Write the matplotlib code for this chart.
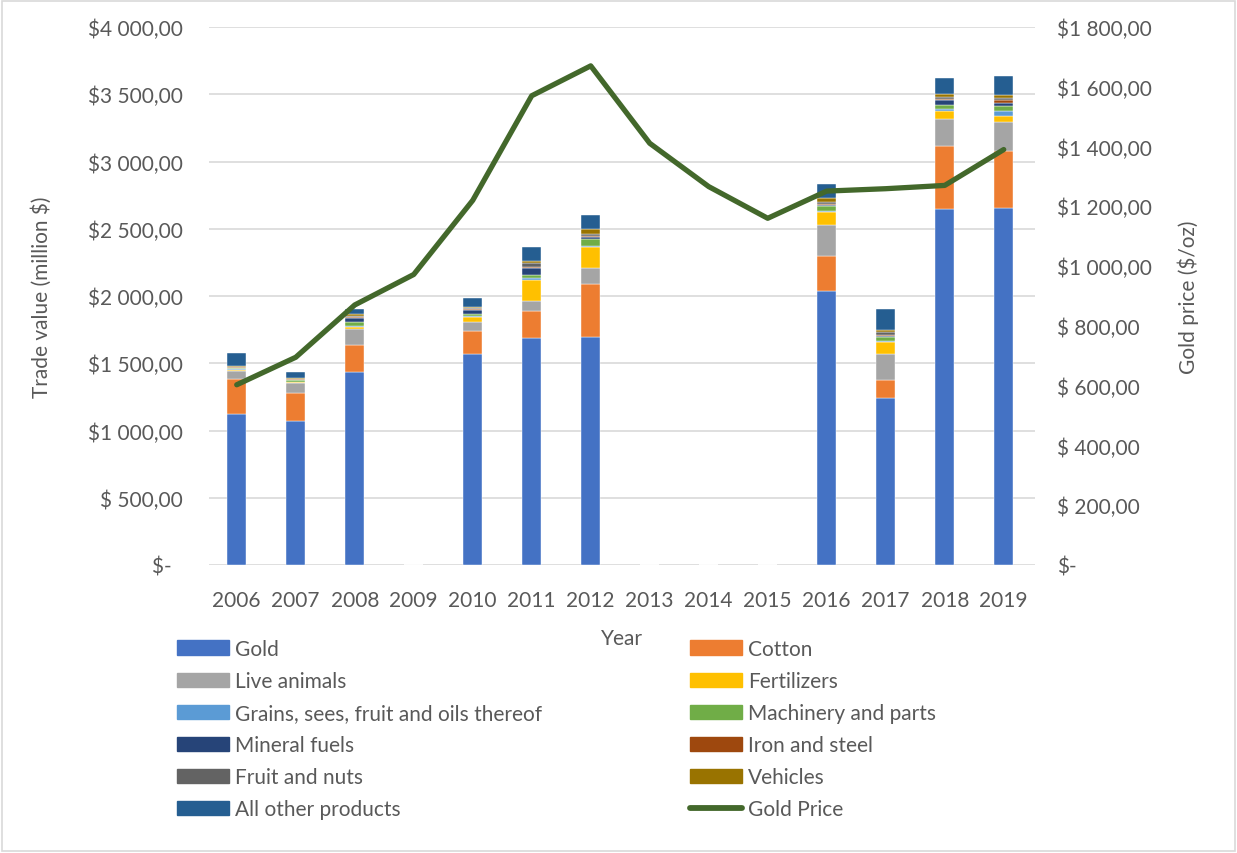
import numpy as np
from matplotlib import pyplot as plt
from matplotlib.patches import Rectangle
from matplotlib.lines import Line2D

plt.rcParams['font.family'] = ['Lato', 'DejaVu Sans']
plt.rcParams['font.size'] = 15
TXT = '#595959'

years = ['2006', '2007', '2008', '2009', '2010', '2011', '2012', '2013',
         '2014', '2015', '2016', '2017', '2018', '2019']

# trade values, million $ (0 = no data)
gold       = [1123, 1071, 1435, 0, 1569, 1686, 1697, 0, 0, 0, 2035, 1242, 2647, 2652]
cotton     = [260, 208, 198, 0, 173, 205, 392, 0, 0, 0, 265, 136, 471, 428]
live       = [59, 74, 119, 0, 67, 74, 117, 0, 0, 0, 228, 191, 198, 211]
fert       = [8, 6, 18, 0, 33, 156, 156, 0, 0, 0, 94, 91, 62, 49]
grains     = [5, 4, 7, 0, 7, 10, 7, 0, 0, 0, 7, 7, 12, 37]
machinery  = [8, 10, 30, 0, 17, 27, 54, 0, 0, 0, 37, 27, 30, 33]
fuels      = [4, 6, 30, 0, 30, 50, 12, 0, 0, 0, 11, 7, 37, 25]
iron       = [2, 3, 7, 0, 7, 7, 12, 0, 0, 0, 7, 7, 7, 19]
fruit      = [3, 4, 7, 0, 7, 30, 12, 0, 0, 0, 15, 25, 18, 18]
vehicles   = [4, 4, 15, 0, 7, 12, 37, 0, 0, 0, 30, 17, 22, 22]
other      = [97, 45, 37, 0, 65, 107, 104, 0, 0, 0, 100, 154, 117, 141]

gold_price = [603, 695, 870, 972, 1220, 1570, 1670, 1411, 1266, 1160,
              1251, 1259, 1270, 1390]

series = [
    ('Gold', gold, '#4472C4'),
    ('Cotton', cotton, '#ED7D31'),
    ('Live animals', live, '#A5A5A5'),
    ('Fertilizers', fert, '#FFC000'),
    ('Grains, sees, fruit and oils thereof', grains, '#5B9BD5'),
    ('Machinery and parts', machinery, '#70AD47'),
    ('Mineral fuels', fuels, '#264478'),
    ('Iron and steel', iron, '#9E480E'),
    ('Fruit and nuts', fruit, '#636363'),
    ('Vehicles', vehicles, '#997300'),
    ('All other products', other, '#255E91'),
]

W, H = 1237, 854
fig = plt.figure(figsize=(W / 100, H / 100), dpi=100)
ax1 = fig.add_axes([209 / W, 1 - 566 / H, 826 / W, 538 / H])

x = np.arange(len(years))
bottom = np.zeros(len(years))
handles = []
for name, vals, col in series:
    vals = np.array(vals, dtype=float)
    ax1.bar(x, vals, 0.33, bottom=bottom, color=col, label=name,
            edgecolor='white', linewidth=0.3, zorder=2)
    bottom += vals
    handles.append(Rectangle((0, 0), 1, 1, color=col, label=name))

ax1.set_xlim(-0.47, 13.53)
ax1.set_ylim(0, 4000)
ax1.set_yticks(np.arange(0, 4001, 500))
left_lbls = ['$-  '] + ['$ 500,00'] + ['$%d %03d,00' % (v // 1000, v % 1000)
                                       for v in range(1000, 4001, 500)]
ax1.set_yticklabels(left_lbls)
ax1.set_xticks(x)
ax1.set_xticklabels(years)
ax1.grid(axis='y', color='#d9d9d9', linewidth=1.2, zorder=0)
ax1.set_axisbelow(True)
for s in ax1.spines.values():
    s.set_visible(False)
ax1.tick_params(axis='y', length=0, pad=19, colors=TXT)
ax1.tick_params(axis='x', length=0, pad=18, colors=TXT)
ax1.set_ylabel('Trade value (million $)', color=TXT, labelpad=26)
ax1.set_xlabel('Year', color=TXT, labelpad=13)

ax2 = ax1.twinx()
ax2.plot(x, gold_price, color='#43682B', linewidth=3.8,
         solid_capstyle='round', solid_joinstyle='round', zorder=5)
ax2.set_ylim(0, 1800)
ax2.set_yticks(np.arange(0, 1801, 200))
right_lbls = ['$-'] + ['$ %d,00' % v for v in range(200, 1000, 200)] + \
             ['$1 %03d,00' % (v - 1000) for v in range(1000, 1801, 200)]
ax2.set_yticklabels(right_lbls)
for s in ax2.spines.values():
    s.set_visible(False)
ax2.tick_params(axis='y', length=0, pad=16, colors=TXT)
ax2.set_ylabel('Gold price ($/oz)', color=TXT, labelpad=18)

# legend, two columns placed separately
line_h = Line2D([0], [0], color='#43682B', linewidth=4.2,
                solid_capstyle='round', label='Gold Price')
col1 = handles[0::2]
col2 = handles[1::2] + [line_h]
kw = dict(frameon=False, handlelength=2.5, handleheight=0.7,
          handletextpad=0.3, labelspacing=0.58, borderaxespad=0,
          borderpad=0, labelcolor=TXT, fontsize=15)
fig.legend(handles=col1, loc='upper left',
           bbox_to_anchor=(177 / W, 1 - 640 / H), **kw)
fig.legend(handles=col2, loc='upper left',
           bbox_to_anchor=(690 / W, 1 - 640 / H), **kw)

fig.patches.append(Rectangle((0.002, 0.002), 0.996, 0.996, transform=fig.transFigure,
                             fill=False, edgecolor='#d9d9d9', linewidth=1.2))

fig.savefig('out.png', dpi=100)
